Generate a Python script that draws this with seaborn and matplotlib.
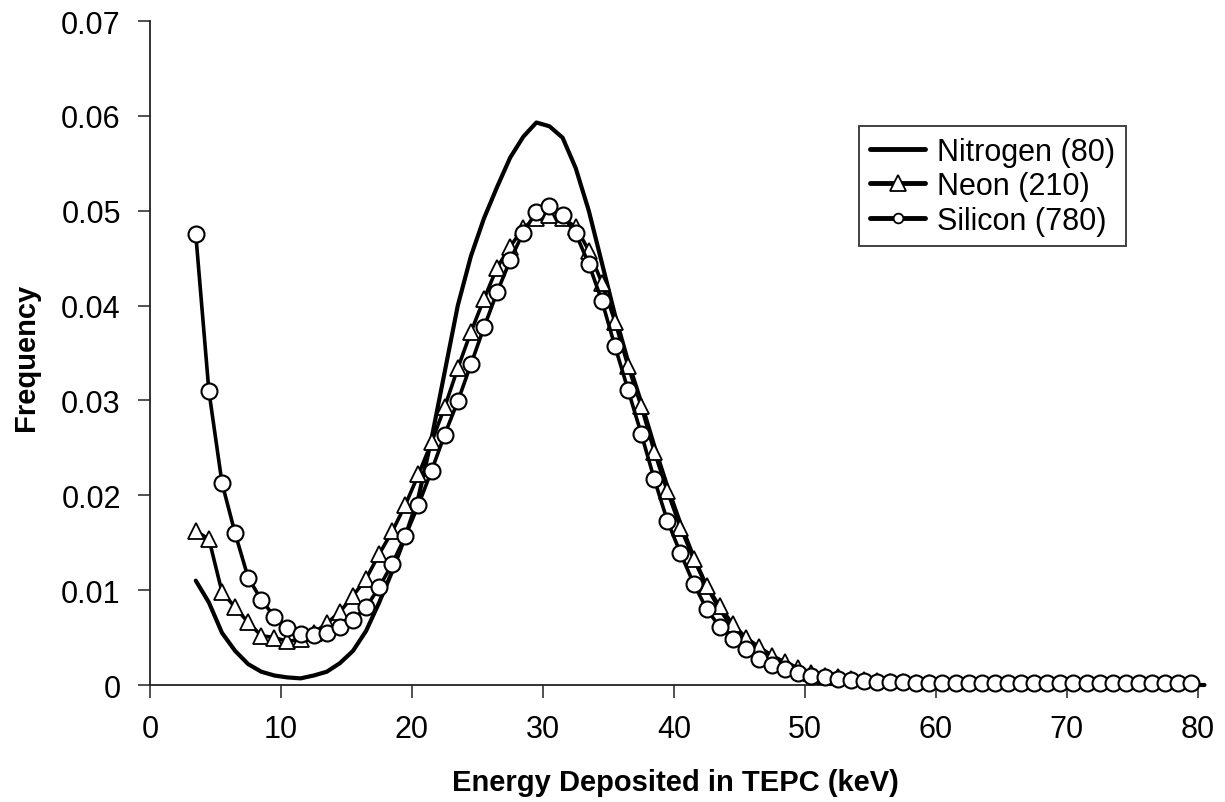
import numpy as np
import matplotlib
matplotlib.use('Agg')
import matplotlib.pyplot as plt
from matplotlib.lines import Line2D
import seaborn as sns

# bin centres (keV)
energy = np.arange(3.5, 80.0, 1.0)      # 3.5 .. 79.5
energy_n = np.arange(3.5, 81.0, 1.0)    # nitrogen runs one bin further

nitrogen = [0.0110, 0.0087, 0.0055, 0.0036, 0.0022, 0.0014, 0.0010, 0.0008, 0.0007, 0.0010,
            0.0014, 0.0023, 0.0036, 0.0057, 0.0087, 0.0120, 0.0157, 0.0198, 0.0260, 0.0330,
            0.0400, 0.0452, 0.0492, 0.0525, 0.0556, 0.0578, 0.0593, 0.0589, 0.0577, 0.0545,
            0.0500, 0.0445, 0.0390, 0.0341, 0.0298, 0.0252, 0.0209, 0.0170, 0.0135, 0.0104,
            0.0080, 0.0060, 0.0045, 0.0033, 0.0024, 0.0017, 0.0012, 0.0008, 0.0005, 0.0003,
            0.0002, 0.0001, 0.0001, 0.0, 0.0, 0.0, 0.0, 0.0, 0.0, 0.0,
            0.0, 0.0, 0.0, 0.0, 0.0, 0.0, 0.0, 0.0, 0.0, 0.0,
            0.0, 0.0, 0.0, 0.0, 0.0, 0.0, 0.0, 0.0]

neon = [0.0162, 0.0154, 0.0098, 0.0082, 0.0066, 0.0052, 0.0050, 0.0046, 0.0048, 0.0055,
        0.0065, 0.0077, 0.0094, 0.0112, 0.0138, 0.0162, 0.0190, 0.0222, 0.0256, 0.0293,
        0.0334, 0.0372, 0.0407, 0.0440, 0.0462, 0.0482, 0.0492, 0.0495, 0.0492, 0.0483,
        0.0458, 0.0424, 0.0383, 0.0336, 0.0294, 0.0246, 0.0204, 0.0166, 0.0133, 0.0104,
        0.0083, 0.0064, 0.0050, 0.0040, 0.0031, 0.0024, 0.0018, 0.0013, 0.0010, 0.0008,
        0.0006, 0.0005, 0.0004, 0.0003, 0.0003, 0.0002, 0.0002, 0.0001, 0.0001, 0.0001,
        0.0, 0.0, 0.0, 0.0, 0.0, 0.0, 0.0, 0.0, 0.0, 0.0,
        0.0, 0.0, 0.0, 0.0, 0.0, 0.0, 0.0]

silicon = [0.0475, 0.0310, 0.0213, 0.0160, 0.0113, 0.0090, 0.0072, 0.0060, 0.0054, 0.0053,
           0.0055, 0.0061, 0.0069, 0.0082, 0.0103, 0.0128, 0.0157, 0.0190, 0.0226, 0.0264,
           0.0299, 0.0338, 0.0377, 0.0414, 0.0448, 0.0477, 0.0499, 0.0505, 0.0495, 0.0476,
           0.0444, 0.0405, 0.0357, 0.0311, 0.0265, 0.0217, 0.0173, 0.0139, 0.0107, 0.0080,
           0.0061, 0.0048, 0.0038, 0.0027, 0.0021, 0.0017, 0.0013, 0.0010, 0.0008, 0.0006,
           0.0005, 0.0004, 0.0003, 0.0003, 0.0003, 0.0002, 0.0002, 0.0002, 0.0002, 0.0002,
           0.0002, 0.0002, 0.0002, 0.0002, 0.0002, 0.0002, 0.0002, 0.0002, 0.0002, 0.0002,
           0.0002, 0.0002, 0.0002, 0.0002, 0.0002, 0.0002, 0.0002]

labels = ['Nitrogen (80)', 'Neon (210)', 'Silicon (780)']
xticks = [0, 10, 20, 30, 40, 50, 60, 70, 80]
yticks = [0, 0.01, 0.02, 0.03, 0.04, 0.05, 0.06, 0.07]
ytick_labels = ['0', '0.01', '0.02', '0.03', '0.04', '0.05', '0.06', '0.07']

sns.set_style('ticks')
plt.rcParams['font.family'] = ['Liberation Sans', 'DejaVu Sans']
plt.rcParams['text.color'] = 'black'
plt.rcParams['axes.labelcolor'] = 'black'
plt.rcParams['xtick.color'] = 'black'
plt.rcParams['ytick.color'] = 'black'

fig = plt.figure(figsize=(12.25, 8.03), dpi=100)
ax = fig.add_axes([0.1224, 0.1457, 0.8555, 0.8269])

# nitrogen - plain thick line
sns.lineplot(x=energy_n, y=nitrogen, ax=ax, color='black', lw=3.0,
             clip_on=False, zorder=3)
# neon - triangles
sns.lineplot(x=energy, y=neon, ax=ax, color='black', lw=2.6, marker='^',
             markersize=12, markerfacecolor='white', markeredgecolor='black',
             markeredgewidth=1.3, zorder=4)
# silicon - circles
sns.lineplot(x=energy, y=silicon, ax=ax, color='black', lw=2.6, marker='o',
             markersize=11.5, markerfacecolor='white', markeredgecolor='black',
             markeredgewidth=1.5, zorder=5, clip_on=False)

ax.set_xlim(0, 80)
ax.set_ylim(0, 0.07)
ax.set_xticks(xticks)
ax.set_yticks(yticks)
ax.set_yticklabels(ytick_labels)
ax.tick_params(axis='both', labelsize=22, direction='out', length=9,
               width=1.2, color='#333333', labelcolor='black', pad=12)

sns.despine(ax=ax)
for s in ['left', 'bottom']:
    ax.spines[s].set_color('#222222')
    ax.spines[s].set_linewidth(1.3)

ax.set_xlabel('Energy Deposited in TEPC (keV)', fontsize=21, fontweight='bold')
ax.set_ylabel('Frequency', fontsize=21, fontweight='bold')
ax.xaxis.set_label_coords(0.501, -0.125)
ax.yaxis.set_label_coords(-0.105, 0.495)

handles = [
    Line2D([], [], color='black', lw=3.5),
    Line2D([], [], color='black', lw=3.5, marker='^', markersize=12,
           markerfacecolor='white', markeredgecolor='black', markeredgewidth=1.3),
    Line2D([], [], color='black', lw=3.5, marker='o', markersize=7,
           markerfacecolor='white', markeredgecolor='black', markeredgewidth=1.3),
]
leg = ax.legend(handles, labels, loc='upper left', bbox_to_anchor=(0.677, 0.842),
                fontsize=22, frameon=True, fancybox=False, handlelength=1.8,
                handletextpad=0.4, labelspacing=0.15, borderpad=0.35,
                borderaxespad=0)
leg.get_frame().set_edgecolor('black')
leg.get_frame().set_linewidth(1.3)

fig.savefig('out.png', dpi=100)
